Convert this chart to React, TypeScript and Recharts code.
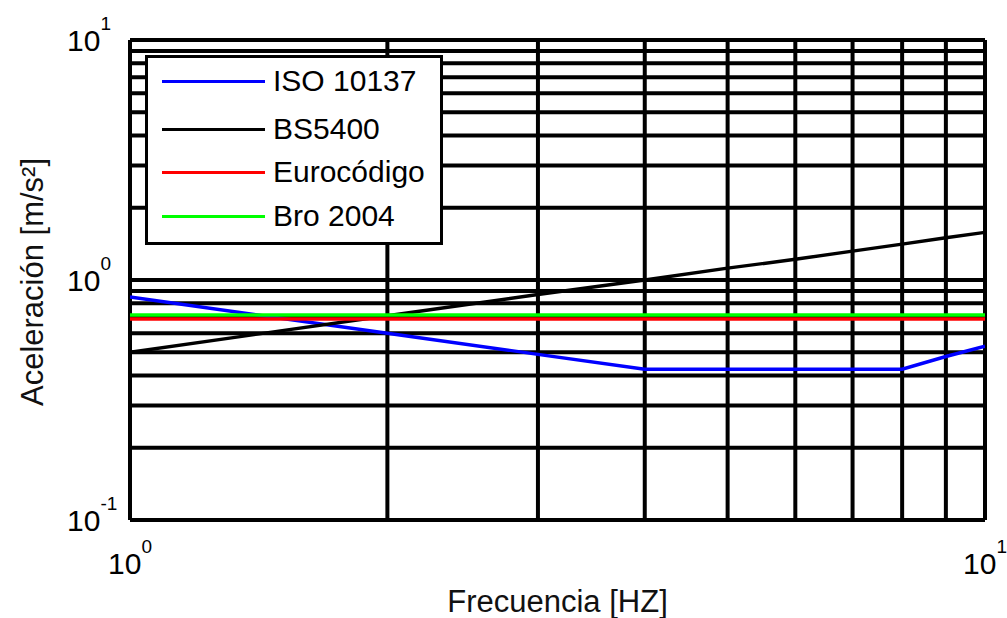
import React from 'react';
import { LineChart, Line, XAxis, YAxis, CartesianGrid, Legend, Label } from 'recharts';

// Frequencies read at the grid lines
const freq = [1, 2, 3, 4, 5, 6, 7, 8, 9, 10];

// Series values [m/s²]
const iso10137 = [0.85, 0.6, 0.49, 0.425, 0.425, 0.425, 0.425, 0.425, 0.48, 0.53];
const bs5400 = [0.5, 0.71, 0.87, 1.0, 1.12, 1.22, 1.32, 1.41, 1.5, 1.58];
const eurocodigo = [0.688, 0.688, 0.688, 0.688, 0.688, 0.688, 0.688, 0.688, 0.688, 0.688];
const bro2004 = [0.715, 0.715, 0.715, 0.715, 0.715, 0.715, 0.715, 0.715, 0.715, 0.715];

// Tick positions (grid lines) and decade labels
const xTicks = [1, 2, 3, 4, 5, 6, 7, 8, 9, 10];
const yTicks = [0.1, 0.2, 0.3, 0.4, 0.5, 0.6, 0.7, 0.8, 0.9, 1, 2, 3, 4, 5, 6, 7, 8, 9, 10];
const decadeLabels: Record<number, string> = { 0.1: '-1', 1: '0', 10: '1' };

const series = [
  { key: 'iso', name: 'ISO 10137', color: '#0000ff', values: iso10137 },
  { key: 'bs', name: 'BS5400', color: '#000000', values: bs5400 },
  { key: 'euro', name: 'Eurocódigo', color: '#ff0000', values: eurocodigo },
  { key: 'bro', name: 'Bro 2004', color: '#00ff00', values: bro2004 },
];

const data = freq.map((f, i) => {
  const row: Record<string, number> = { f };
  series.forEach((s) => {
    row[s.key] = s.values[i];
  });
  return row;
});

const FONT = '"Liberation Sans", Arial, sans-serif';

const XTick = (props: any) => {
  const { x, y, payload } = props;
  const exp = decadeLabels[payload.value];
  if (exp === undefined) return null;
  return (
    <text x={x} y={y + 54} textAnchor="middle" fontFamily={FONT} fontSize={30} fill="#000">
      <tspan>10</tspan>
      <tspan dy={-21} fontSize={19}>{exp}</tspan>
    </text>
  );
};

const YTick = (props: any) => {
  const { x, y, payload } = props;
  const exp = decadeLabels[Number(payload.value.toFixed(2))];
  if (exp === undefined) return null;
  return (
    <text x={x - 63} y={y + 11} textAnchor="start" fontFamily={FONT} fontSize={30} fill="#000">
      <tspan>10</tspan>
      <tspan dy={-21} fontSize={19}>{exp}</tspan>
    </text>
  );
};

const LegendBox = () => (
  <div
    style={{
      position: 'relative',
      width: 292,
      height: 184,
      border: '3px solid #000',
      background: '#fff',
      fontFamily: FONT,
      fontSize: 30,
    }}
  >
    {series.map((s, i) => (
      <div
        key={s.key}
        style={{
          position: 'absolute',
          left: 14,
          top: [23, 71, 114, 158][i] - 18,
          height: 36,
          display: 'flex',
          alignItems: 'center',
          whiteSpace: 'nowrap',
        }}
      >
        <span style={{ display: 'inline-block', width: 103, height: 3, background: s.color }} />
        <span style={{ marginLeft: 8, color: '#000' }}>{s.name}</span>
      </div>
    ))}
  </div>
);

export default function App() {
  return (
    <div style={{ position: 'absolute', left: 0, top: 0, width: 1007, height: 618, background: '#fff' }}>
      <LineChart width={1007} height={618} data={data} margin={{ top: 40, right: 22, bottom: 0, left: 0 }}>
        <CartesianGrid stroke="#000" strokeWidth={4} strokeDasharray="" />
        <XAxis
          dataKey="f"
          type="number"
          scale="log"
          domain={[1, 10]}
          ticks={xTicks}
          allowDataOverflow
          height={98}
          axisLine={false}
          tickLine={false}
          tickSize={0}
          tickMargin={0}
          interval={0}
          tick={<XTick />}
        >
          <Label
            content={(p: any) => {
              const vb = p.viewBox;
              return (
                <text x={vb.x + vb.width / 2} y={vb.y + 92} textAnchor="middle" fontFamily={FONT} fontSize={31} fill="#111">
                  Frecuencia [HZ]
                </text>
              );
            }}
          />
        </XAxis>
        <YAxis
          type="number"
          scale="log"
          domain={[0.1, 10]}
          ticks={yTicks}
          allowDataOverflow
          width={130}
          axisLine={false}
          tickLine={false}
          tickSize={0}
          tickMargin={0}
          interval={0}
          tick={<YTick />}
        >
          <Label
            content={(p: any) => {
              const vb = p.viewBox;
              const cx = vb.x + 32;
              const cy = vb.y + vb.height / 2 + 2;
              return (
                <text
                  x={cx}
                  y={cy}
                  transform={`rotate(-90 ${cx} ${cy})`}
                  textAnchor="middle"
                  dominantBaseline="central"
                  fontFamily={FONT}
                  fontSize={31}
                  fill="#111"
                >
                  Aceleración [m/s²]
                </text>
              );
            }}
          />
        </YAxis>
        {series.map((s) => (
          <Line
            key={s.key}
            dataKey={s.key}
            name={s.name}
            type="linear"
            stroke={s.color}
            strokeWidth={3.4}
            dot={false}
            isAnimationActive={false}
          />
        ))}
        <Legend
          layout="horizontal"
          verticalAlign="middle"
          align="center"
          wrapperStyle={{ position: 'absolute', left: 145, top: 55, width: 298, height: 190 }}
          content={() => <LegendBox />}
        />
      </LineChart>
    </div>
  );
}
